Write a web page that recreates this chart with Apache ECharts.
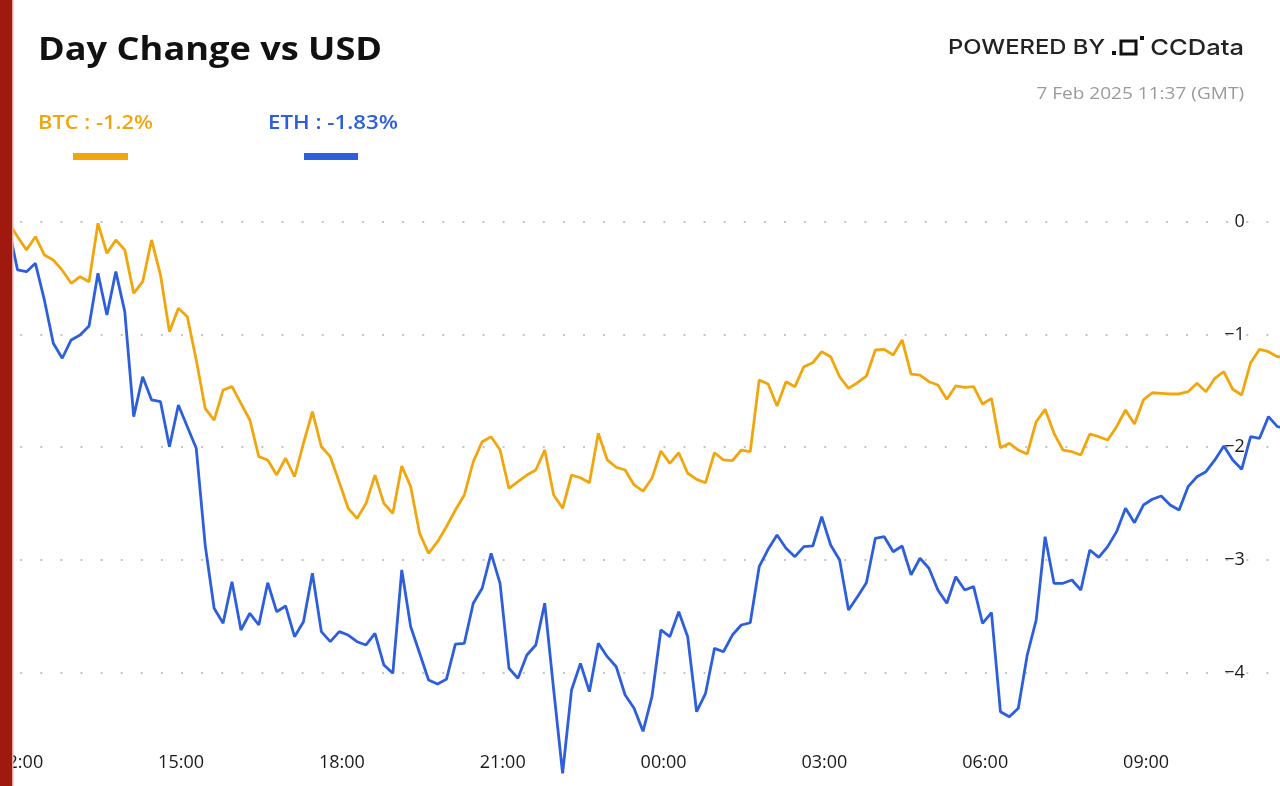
<!DOCTYPE html>
<html>
<head>
<meta charset="utf-8">
<script src="https://cdn.jsdelivr.net/npm/echarts@6/dist/echarts.min.js"></script>
<style>
html,body{margin:0;padding:0;background:#fff;}
#chart{width:1280px;height:786px;}
</style>
</head>
<body>
<div id="chart"></div>
<script>
// ---- Data (day change in %, 10-minute steps from 6 Feb 2025 11:37 GMT to 7 Feb 2025 11:37 GMT) ----
const startClockHour = 11 + 37 / 60;   // first sample time (hours, 6 Feb)
const stepMinutes = 10;
const xTickLabels = ['09:00', '12:00', '15:00', '18:00', '21:00', '00:00', '03:00', '06:00', '09:00', '12:00'];
const yTickLabels = ['0', '\u22121', '\u22122', '\u22123', '\u22124', ''];

const btc = [
  0, -0.01, -0.133, -0.25, -0.133, -0.295, -0.34, -0.43, -0.546, -0.488,
  -0.532, -0.014, -0.28, -0.162, -0.25, -0.635, -0.532, -0.162, -0.473, -0.976,
  -0.768, -0.843, -1.226, -1.655, -1.759, -1.493, -1.463, -1.611, -1.759, -2.084,
  -2.113, -2.246, -2.098, -2.262, -1.965, -1.685, -1.996, -2.084, -2.31, -2.542,
  -2.631, -2.498, -2.247, -2.498, -2.586, -2.167, -2.35, -2.764, -2.941, -2.838,
  -2.705, -2.557, -2.424, -2.129, -1.951, -1.907, -2.025, -2.365, -2.306, -2.247,
  -2.202, -2.025, -2.424, -2.542, -2.247, -2.271, -2.315, -1.877, -2.113, -2.178,
  -2.202, -2.335, -2.39, -2.276, -2.034, -2.143, -2.049, -2.231, -2.285, -2.315,
  -2.049, -2.113, -2.12, -2.025, -2.04, -1.404, -1.44, -1.635, -1.419, -1.463,
  -1.286, -1.251, -1.153, -1.197, -1.375, -1.478, -1.428, -1.369, -1.138, -1.132,
  -1.182, -1.049, -1.351, -1.36, -1.419, -1.448, -1.575, -1.457, -1.469, -1.463,
  -1.617, -1.567, -2.004, -1.966, -2.025, -2.06, -1.774, -1.664, -1.877, -2.025,
  -2.04, -2.069, -1.883, -1.907, -1.936, -1.818, -1.67, -1.794, -1.581, -1.517,
  -1.522, -1.528, -1.528, -1.508, -1.433, -1.508, -1.389, -1.33, -1.486, -1.537,
  -1.251, -1.132, -1.153, -1.197, -1.2
];

const eth = [
  0, -0.05, -0.428, -0.443, -0.369, -0.694, -1.078, -1.211, -1.049, -1.005,
  -0.925, -0.458, -0.827, -0.443, -0.798, -1.729, -1.375, -1.581, -1.596, -1.996,
  -1.626, -1.818, -2.01, -2.869, -3.429, -3.562, -3.193, -3.621, -3.473, -3.577,
  -3.202, -3.459, -3.408, -3.681, -3.548, -3.118, -3.636, -3.725, -3.636, -3.666,
  -3.725, -3.754, -3.651, -3.932, -4.005, -3.089, -3.592, -3.828, -4.065, -4.1,
  -4.059, -3.746, -3.739, -3.384, -3.251, -2.941, -3.207, -3.961, -4.05, -3.843,
  -3.754, -3.384, -4.15, -4.892, -4.153, -3.917, -4.168, -3.739, -3.858, -3.947,
  -4.198, -4.316, -4.52, -4.213, -3.621, -3.681, -3.459, -3.681, -4.346, -4.183,
  -3.784, -3.814, -3.666, -3.577, -3.557, -3.06, -2.906, -2.779, -2.897, -2.971,
  -2.882, -2.876, -2.616, -2.867, -3.0, -3.444, -3.326, -3.202, -2.808, -2.794,
  -2.927, -2.876, -3.133, -2.985, -3.074, -3.267, -3.384, -3.149, -3.267, -3.237,
  -3.562, -3.468, -4.346, -4.39, -4.316, -3.843, -3.533, -2.794, -3.207, -3.207,
  -3.178, -3.267, -2.912, -2.977, -2.882, -2.749, -2.542, -2.67, -2.513, -2.462,
  -2.433, -2.513, -2.557, -2.35, -2.262, -2.217, -2.113, -1.989, -2.113, -2.196,
  -1.907, -1.921, -1.729, -1.818, -1.83
];

const btcLabel = 'BTC : -1.2%';
const ethLabel = 'ETH : -1.83%';
const titleText = 'Day Change vs USD';
const dateText = '7 Feb 2025 11:37 (GMT)';

// x value = hours since 6 Feb 12:00
function toPairs(arr) {
  return arr.map((v, i) => [startClockHour - 12 + i * stepMinutes / 60, v]);
}

const ORANGE = '#F2A60E';
const BLUE = '#2D5EDC';

const chart = echarts.init(document.getElementById('chart'), null, {renderer: 'canvas'});

const option = {
  animation: false,
  backgroundColor: '#ffffff',
  grid: {left: -140.6, right: -26.9, top: 221.7, height: 563.75, containLabel: false, outerBoundsMode: 'none'},
  xAxis: {
    type: 'value', min: -3, max: 24, interval: 3,
    axisLine: {show: false}, axisTick: {show: false}, splitLine: {show: false},
    axisLabel: {
      inside: true, margin: 14, color: '#1a1a1a', fontSize: 18,
      fontFamily: 'Open Sans',
      formatter: function (v) { return xTickLabels[Math.round(v / 3) + 1]; }
    }
  },
  yAxis: {
    type: 'value', position: 'right', min: -5, max: 0, interval: 1,
    axisLine: {show: false}, axisTick: {show: false},
    splitLine: {show: true, showMinLine: false,
      lineStyle: {color: '#c4c4c4', width: 2, type: [2, 18.1]}},
    axisLabel: {
      inside: true, margin: 62, color: '#1a1a1a', fontSize: 18,
      fontFamily: 'Open Sans',
      formatter: function (v) { return yTickLabels[Math.round(-v)]; }
    }
  },
  series: [
    {name: 'BTC', type: 'line', data: toPairs(btc), showSymbol: false,
     lineStyle: {color: ORANGE, width: 2.8}, itemStyle: {color: ORANGE}, z: 3},
    {name: 'ETH', type: 'line', data: toPairs(eth), showSymbol: false,
     lineStyle: {color: BLUE, width: 2.8}, itemStyle: {color: BLUE}, z: 4}
  ],
  graphic: [
    {type: 'text', x: 38, y: 51, scaleX: 1.13, z: 10, style: {text: titleText, fill: '#111', font: 'bold 32px "Open Sans"', textVerticalAlign: 'middle'}},
    {type: 'text', x: 38, y: 124, scaleX: 1.15, z: 10, style: {text: btcLabel, fill: ORANGE, font: '600 19px "Open Sans"', textVerticalAlign: 'middle'}},
    {type: 'rect', z: 10, shape: {x: 73, y: 153, width: 55, height: 7}, style: {fill: ORANGE}},
    {type: 'text', x: 268, y: 124, scaleX: 1.17, z: 10, style: {text: ethLabel, fill: BLUE, font: '600 19px "Open Sans"', textVerticalAlign: 'middle'}},
    {type: 'rect', z: 10, shape: {x: 304, y: 153, width: 54, height: 7}, style: {fill: BLUE}},
    {type: 'text', x: 1105, y: 48, scaleX: 1.19, z: 10, style: {text: 'POWERED BY', fill: '#222', font: '500 20px Inter', textAlign: 'right', textVerticalAlign: 'middle'}},
    {type: 'rect', z: 10, shape: {x: 1112, y: 51, width: 4, height: 4}, style: {fill: '#111'}},
    {type: 'rect', z: 10, shape: {x: 1121, y: 41, width: 15, height: 13}, style: {fill: 'none', stroke: '#111', lineWidth: 3}},
    {type: 'rect', z: 10, shape: {x: 1140, y: 36, width: 4, height: 4}, style: {fill: '#111'}},
    {type: 'text', x: 1244, y: 48, scaleX: 1.16, z: 10, style: {text: 'CCData', fill: '#222', font: '500 22px Inter', textAlign: 'right', textVerticalAlign: 'middle'}},
    {type: 'text', x: 1244, y: 94, scaleX: 1.19, z: 10, style: {text: dateText, fill: '#9a9a9a', font: '16px "Open Sans"', textAlign: 'right', textVerticalAlign: 'middle'}},
    {type: 'rect', z: 20, shape: {x: 0, y: 0, width: 12, height: 786}, style: {fill: '#A0190F'}},
    {type: 'rect', z: 20, shape: {x: 12, y: 0, width: 1.5, height: 786}, style: {fill: '#E0A8A2'}}
  ]
};
chart.setOption(option);
</script>
</body>
</html>
